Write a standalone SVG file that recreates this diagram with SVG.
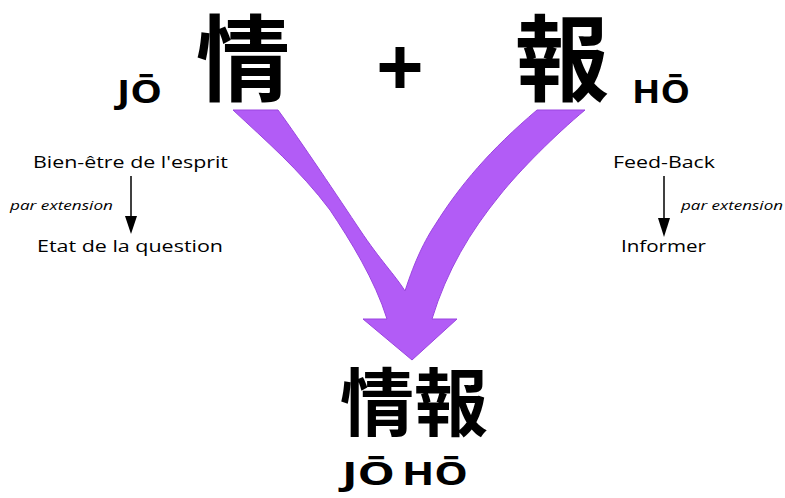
<svg xmlns="http://www.w3.org/2000/svg" width="785" height="498" viewBox="0 0 785 498">
<defs>
<style>
.cjk{font-family:"Noto Sans CJK JP","Noto Sans CJK SC",sans-serif;font-weight:bold;fill:#000}
.rom{font-family:"Open Sans","Liberation Sans",sans-serif;font-weight:bold;fill:#000}
.lbl{font-family:"Open Sans","Liberation Sans",sans-serif;font-size:17px;fill:#000}
.ext{font-family:"Open Sans","Liberation Sans",sans-serif;font-size:12.5px;font-style:italic;fill:#000}
.ln{stroke:#000;stroke-width:1.5;fill:none}
.hd{fill:#000}
</style>
</defs>
<rect width="785" height="498" fill="#fff"/>

<g id="jo">
<text class="rom" x="117" y="103" font-size="32" textLength="45" lengthAdjust="spacingAndGlyphs">JŌ</text>
<text class="cjk" x="243" y="94" font-size="94" text-anchor="middle">情</text>
</g>
<g id="plus">
<text class="rom" x="400" y="97" font-size="84" text-anchor="middle">+</text>
</g>
<g id="ho">
<text class="cjk" x="562" y="94" font-size="94" text-anchor="middle">報</text>
<text class="rom" x="632" y="103" font-size="32" textLength="58" lengthAdjust="spacingAndGlyphs">HŌ</text>
</g>

<g id="connectors">
<path d="M233,110 L278,110 C300,140 340,200 360,230 C380,260 395,275 405,291 C415,260 425,240 435,225 C460,185 490,150 537,110 L585,110 C555,135 520,170 500,195 C470,232 447,270 432,319 L457,319 L412,360 L363,319 L387,319 C375,280 350,240 330,210 C300,170 265,140 233,110 Z" fill="#b25cf6" stroke="#9a45e0" stroke-width="1"/>
<line class="ln" x1="131" y1="176" x2="131" y2="218"/>
<polygon class="hd" points="125,216 137,216 131,234"/>
<line class="ln" x1="664" y1="176" x2="664" y2="220"/>
<polygon class="hd" points="658,218 670,218 664,237"/>
</g>

<g id="left">
<text class="lbl" x="33" y="168" textLength="195" lengthAdjust="spacingAndGlyphs">Bien-être de l'esprit</text>
<text class="ext" x="10" y="210" textLength="103" lengthAdjust="spacingAndGlyphs">par extension</text>
<text class="lbl" x="37" y="252" textLength="186" lengthAdjust="spacingAndGlyphs">Etat de la question</text>
</g>
<g id="right">
<text class="lbl" x="613" y="168" textLength="102" lengthAdjust="spacingAndGlyphs">Feed-Back</text>
<text class="ext" x="681" y="210" textLength="102" lengthAdjust="spacingAndGlyphs">par extension</text>
<text class="lbl" x="621" y="252" textLength="85" lengthAdjust="spacingAndGlyphs">Informer</text>
</g>

<g id="joho">
<text class="cjk" x="414" y="430" font-size="74" text-anchor="middle">情報</text>
<text class="rom" x="342" y="485" font-size="32" textLength="53" lengthAdjust="spacingAndGlyphs">JŌ</text>
<text class="rom" x="402" y="485" font-size="32" textLength="66" lengthAdjust="spacingAndGlyphs">HŌ</text>
</g>
</svg>
